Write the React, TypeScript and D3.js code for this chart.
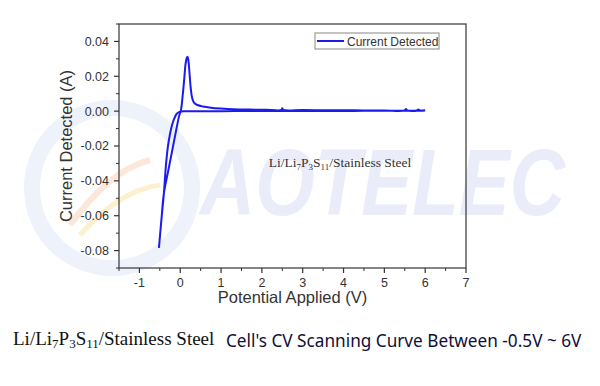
import React from "react";
import * as d3 from "d3";

// ---- data ----
const reverseV = [6.0, 5.5, 5.0, 4.5, 4.0, 3.5, 3.0, 2.5, 2.0, 1.5, 1.0, 0.6, 0.3, 0.1, 0.0, -0.05, -0.1, -0.15, -0.2, -0.25, -0.3, -0.35, -0.4, -0.46, -0.52];
const reverseI = [0.0003, 0.0002, 0.0002, 0.0002, 0.0001, 0.0001, 0.0001, 0.0001, 0.0001, 0.0001, 0.0, 0.0, 0.0, -0.0001, -0.0003, -0.0008, -0.002, -0.0045, -0.008, -0.013, -0.02, -0.031, -0.047, -0.062, -0.078];

const forwardV = [-0.52, -0.46, -0.4, -0.3, -0.2, -0.1, -0.03, 0.02, 0.06, 0.1, 0.13, 0.16, 0.18, 0.2, 0.22, 0.25, 0.28, 0.31, 0.35, 0.42, 0.55, 0.75, 1.0, 1.3, 1.7, 2.1, 2.48, 2.5, 2.52, 3.0, 3.5, 4.0, 4.5, 5.0, 5.5, 5.53, 5.56, 5.8, 5.83, 5.86, 6.0];
const forwardI = [-0.078, -0.062, -0.047, -0.035, -0.023, -0.011, -0.003, 0.001, 0.009, 0.019, 0.027, 0.0305, 0.0312, 0.029, 0.024, 0.015, 0.009, 0.0062, 0.0045, 0.0035, 0.0027, 0.002, 0.0015, 0.0011, 0.0009, 0.0008, 0.0007, 0.0017, 0.0007, 0.0006, 0.0005, 0.0005, 0.0004, 0.0004, 0.0004, 0.0012, 0.0004, 0.0004, 0.001, 0.0004, 0.0003];

const xTicks = [-1, 0, 1, 2, 3, 4, 5, 6, 7];
const xTickLabels = ["-1", "0", "1", "2", "3", "4", "5", "6", "7"];
const yTicks = [0.04, 0.02, 0.0, -0.02, -0.04, -0.06, -0.08];
const yTickLabels = ["0.04", "0.02", "0.00", "-0.02", "-0.04", "-0.06", "-0.08"];
const xDomain = [-1.5, 7];
const yDomain = [-0.09, 0.05];

const seriesName = "Current Detected";
const xTitle = "Potential Applied (V)";
const yTitle = "Current Detected (A)";
const captionTail = "Cell's CV Scanning Curve Between -0.5V ~ 6V";

export default function App() {
  const L = 119, R = 466, T = 24, B = 268;
  const x = d3.scaleLinear().domain(xDomain).range([L, R]);
  const y = d3.scaleLinear().domain(yDomain).range([B, T]);

  const pts: [number, number][] = [];
  reverseV.forEach((v, i) => pts.push([v, reverseI[i]]));
  forwardV.forEach((v, i) => pts.push([v, forwardI[i]]));
  const line = d3
    .line<[number, number]>()
    .x((d) => x(d[0]))
    .y((d) => y(d[1]))
    .curve(d3.curveCatmullRom.alpha(0.5));

  const xMinor = d3.range(-1.5, 7.01, 0.5).filter((v) => Math.abs(v - Math.round(v)) > 0.01);
  const yMinor = d3.range(-0.09, 0.0501, 0.01).filter((v) => Math.abs(v * 50 - Math.round(v * 50)) > 0.01);

  const sans = "Arial, 'Liberation Sans', Helvetica, sans-serif";
  const serif = "'Times New Roman', 'Liberation Serif', Times, serif";
  const blue = "#1b1bf0";

  return (
    <svg width={600} height={386} style={{ position: "absolute", left: 0, top: 0, background: "#fff" }}>
      {/* watermark */}
      <g opacity={0.9}>
        <circle cx={112} cy={188} r={80} fill="none" stroke="#edf1fb" strokeWidth={16} />
        <path d="M70,225 Q110,170 150,160" fill="none" stroke="#fbe6d6" strokeWidth={6} />
        <path d="M80,235 Q120,190 160,185" fill="none" stroke="#fdf0c8" strokeWidth={5} />
        <text
          x={200}
          y={215}
          fontFamily={sans}
          fontWeight="bold"
          fontStyle="italic"
          fontSize={94}
          fill="#e8ecf9"
          textLength={365}
          lengthAdjust="spacingAndGlyphs"
        >
          AOTELEC
        </text>
      </g>

      {/* frame */}
      <rect x={L} y={T} width={R - L} height={B - T} fill="none" stroke="#444" strokeWidth={1.3} />

      {/* y ticks */}
      {yTicks.map((t, i) => (
        <g key={"yt" + i}>
          <line x1={L - 5} x2={L} y1={y(t)} y2={y(t)} stroke="#333" strokeWidth={1.2} />
          <text x={L - 10} y={y(t)} dy="0.35em" textAnchor="end" fontFamily={sans} fontSize={12.5} fill="#333">
            {yTickLabels[i]}
          </text>
        </g>
      ))}
      {yMinor.map((t, i) => (
        <line key={"ym" + i} x1={L - 3} x2={L} y1={y(t)} y2={y(t)} stroke="#333" strokeWidth={1} />
      ))}

      {/* x ticks */}
      {xTicks.map((t, i) => (
        <g key={"xt" + i}>
          <line x1={x(t)} x2={x(t)} y1={B} y2={B + 5} stroke="#333" strokeWidth={1.2} />
          <text x={x(t)} y={287} textAnchor="middle" fontFamily={sans} fontSize={12.5} fill="#333">
            {xTickLabels[i]}
          </text>
        </g>
      ))}
      {xMinor.map((t, i) => (
        <line key={"xm" + i} x1={x(t)} x2={x(t)} y1={B} y2={B + 3} stroke="#333" strokeWidth={1} />
      ))}

      {/* axis titles */}
      <text x={(L + R) / 2} y={303} textAnchor="middle" fontFamily={sans} fontSize={16.5} fill="#333">
        {xTitle}
      </text>
      <text
        transform={`translate(72,${(T + B) / 2}) rotate(-90)`}
        textAnchor="middle"
        fontFamily={sans}
        fontSize={16.5}
        fill="#333"
      >
        {yTitle}
      </text>

      {/* curve */}
      <path d={line(pts) || ""} fill="none" stroke={blue} strokeWidth={2} strokeLinejoin="round" />

      {/* legend */}
      <rect x={315} y={33} width={124} height={16} fill="#fff" stroke="#888" strokeWidth={1} />
      <line x1={317} x2={344} y1={41} y2={41} stroke={blue} strokeWidth={2} />
      <text x={347} y={45.5} fontFamily={sans} fontSize={12} fill="#333">
        {seriesName}
      </text>

      {/* annotation */}
      <text x={340} y={167} textAnchor="middle" fontFamily={serif} fontSize={13.5} fill="#333">
        Li/Li<tspan fontSize={9} dy={3}>7</tspan>
        <tspan dy={-3}>P</tspan>
        <tspan fontSize={9} dy={3}>3</tspan>
        <tspan dy={-3}>S</tspan>
        <tspan fontSize={9} dy={3}>11</tspan>
        <tspan dy={-3}>/Stainless Steel</tspan>
      </text>

      {/* caption */}
      <text x={13} y={345} fontFamily={serif} fontSize={19} fill="#111">
        Li/Li<tspan fontSize={13} dy={3}>7</tspan>
        <tspan dy={-3}>P</tspan>
        <tspan fontSize={13} dy={3}>3</tspan>
        <tspan dy={-3}>S</tspan>
        <tspan fontSize={13} dy={3}>11</tspan>
        <tspan dy={-3}>/Stainless Steel</tspan>
      </text>
      <text x={226} y={347} fontFamily="'Noto Sans', 'Open Sans', sans-serif" fontSize={17.2} fill="#10103a">
        {captionTail}
      </text>
    </svg>
  );
}
